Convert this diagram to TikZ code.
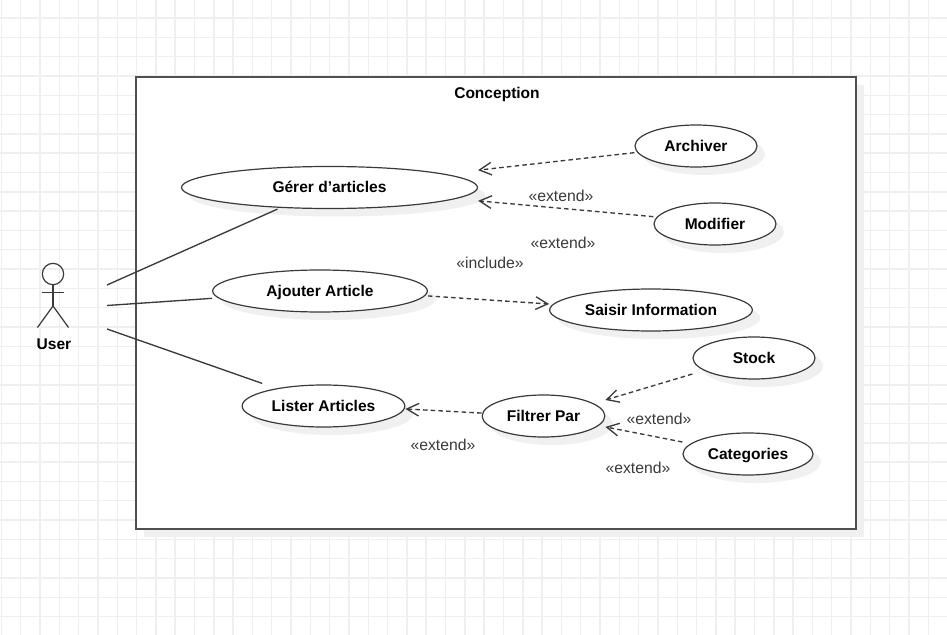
\documentclass[tikz,border=0pt]{standalone}
\usepackage{fontspec}
\setmainfont{Liberation Sans}
\usetikzlibrary{shapes.geometric,shadows,arrows.meta}

\definecolor{gridgray}{HTML}{EFEFEF}
\definecolor{shadegray}{HTML}{F0F0F0}
\definecolor{linegray}{HTML}{3A3A3A}
\definecolor{framegray}{HTML}{505050}

\tikzset{
  softshadow/.style={drop shadow={shadow xshift=6pt, shadow yshift=-6pt, fill=shadegray, opacity=1}},
  usecase/.style={ellipse, draw=linegray, fill=white, softshadow, line width=0.9pt, inner sep=0pt, text height=8pt, text depth=0pt, font=\bfseries\fontsize{11.65}{13}\selectfont},
  title/.style={inner sep=0pt, text height=8pt, text depth=0pt, font=\bfseries\fontsize{11.65}{13}\selectfont},
  stereo/.style={text=linegray, inner sep=0pt, font=\fontsize{11.8}{13}\selectfont},
  assoc/.style={color=linegray, line width=1pt},
  dep/.style={color=linegray, line width=1pt, dash pattern=on 3.4pt off 2.4pt, -{Straight Barb[length=9pt, width=9.5pt]}},
}

\begin{document}
\begin{tikzpicture}[x=0.75pt, y=-0.75pt]
    \useasboundingbox (0, 0) rectangle (947, 635);
    \fill[white] (0, 0) rectangle (947, 635);
    \foreach \k in {0, ..., 48} {
      \draw[gridgray, line width=1.1pt] (1.4+19.31*\k, 0) -- (1.4+19.31*\k, 635);
    }
    \foreach \k in {0, ..., 32} {
      \draw[gridgray, line width=1.1pt] (0, 18+19.31*\k) -- (947, 18+19.31*\k);
    }

    \node[draw=framegray, fill=white, softshadow, line width=1.3pt, inner sep=0pt, minimum width=540pt, minimum height=339pt] (frame) at (496, 303) {};
    \node[title] (conception) at (497, 93) {Conception};

    \begin{scope}[every node/.style={usecase}]
      \node[minimum width=222pt, minimum height=31.5pt] (gerer) at (329.5, 187.5) {Gérer d’articles};
      \node[minimum width=91.5pt, minimum height=31.5pt] (archiver) at (696, 146) {Archiver};
      \node[minimum width=91.5pt, minimum height=31.5pt] (modifier) at (715, 224) {Modifier};
      \node[minimum width=161pt, minimum height=31.5pt] (ajouter) at (320, 291) {Ajouter Article};
      \node[minimum width=152pt, minimum height=31.5pt] (saisir) at (651, 310) {Saisir Information};
      \node[minimum width=122pt, minimum height=31.5pt] (lister) at (323.5, 406) {Lister Articles};
      \node[minimum width=92pt, minimum height=31.5pt] (filtrer) at (543.5, 416) {Filtrer Par};
      \node[minimum width=91.5pt, minimum height=31.5pt] (stock) at (754, 358) {Stock};
      \node[minimum width=97.5pt, minimum height=31.5pt] (categories) at (748, 454) {Categories};
    \end{scope}

    \begin{scope}[every node/.style={stereo}]
      \node (ext1) at (561, 196) {«extend»};
      \node (ext2) at (563, 243) {«extend»};
      \node (inc1) at (490, 263) {«include»};
      \node (ext3) at (659, 419) {«extend»};
      \node (ext4) at (443, 445) {«extend»};
      \node (ext5) at (638, 468) {«extend»};
    \end{scope}

    % actor
    \node[circle, draw=linegray, line width=0.9pt, inner sep=0pt, minimum size=16pt] (head) at (53, 274) {};
    \coordinate (hip) at (53, 306);
    \coordinate (armL) at (41.5, 292.5);
    \coordinate (armR) at (64, 292.5);
    \coordinate (legL) at (37.5, 327.5);
    \coordinate (legR) at (68.5, 327.5);
    \node[title] (user) at (54, 344) {User};
    \draw[color=linegray, line width=0.9pt] (head) -- (hip);
    \draw[color=linegray, line width=0.9pt] (armL) -- (armR);
    \draw[color=linegray, line width=0.9pt] (legL) -- (hip) -- (legR);

    % free ends
    \coordinate (userA) at (107, 285);
    \coordinate (userB) at (107, 305.5);
    \coordinate (userC) at (107, 329);

    \draw[assoc] (userA) -- ([xshift=-39pt]gerer.south);
    \draw[assoc] (userB) -- ([yshift=-5.5pt]ajouter.west);
    \draw[assoc] (userC) -- ([xshift=-46pt, yshift=0.75pt]lister.north);

    \draw[dep] ([yshift=-5pt]archiver.west) -- ([yshift=13pt]gerer.east);
    \draw[dep] ([yshift=5.5pt]modifier.west) -- ([yshift=-10pt]gerer.east);
    \draw[dep] ([yshift=-3.7pt]ajouter.east) -- ([yshift=4.5pt]saisir.west);
    \draw[dep] ([yshift=2.2pt]filtrer.west) -- ([yshift=-2.2pt]lister.east);
    \draw[dep] ([yshift=-12pt]stock.west) -- ([yshift=12pt]filtrer.east);
    \draw[dep] ([yshift=9pt]categories.west) -- ([yshift=-8.2pt]filtrer.east);

  \end{tikzpicture}
\end{document}
